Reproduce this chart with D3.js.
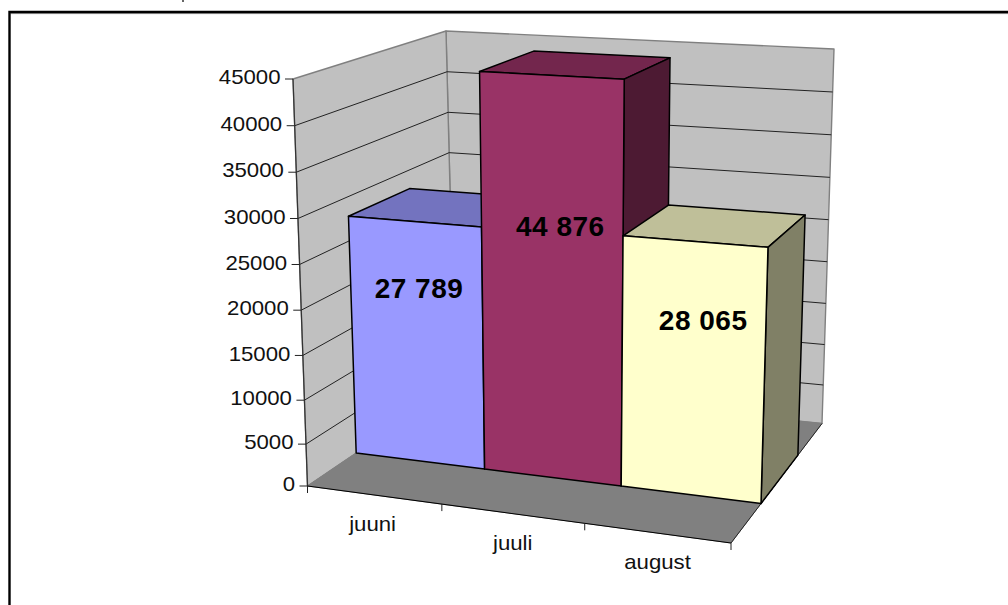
<!DOCTYPE html>
<html><head><meta charset="utf-8">
<script src="https://cdn.jsdelivr.net/npm/d3@7"></script>
<style>html,body{margin:0;background:#fff}svg{display:block}text{font-family:"Liberation Sans",Arial,sans-serif}</style>
</head><body><div id="c"></div>
<script>
const categories = ["juuni","juuli","august"];
const values = [27789,44876,28065];
const valueLabels = ["27 789","44 876","28 065"];
const yTicks = [0,5000,10000,15000,20000,25000,30000,35000,40000,45000];
const colors = ["#9999ff","#993366","#ffffcc"];
const topColors = ["#7373bf","#73264d","#bfbf99"];
const sideColors = ["#4d4d80","#4d1a33","#808066"];
const labelDrop = [69,153,81];
const labelShift = [6,9,8];

const W=1008,H=605;
// screen corners of the plot box, named by [x, height, depth]
const corners={ "000":[307.5,486],"100":[731,543],"010":[293,79],"110":[742,104],
                "001":[455,386],"101":[822,423.5],"011":[446,31],"111":[834,49] };
const mix=(a,b,t)=>[a[0]+(b[0]-a[0])*t,a[1]+(b[1]-a[1])*t];
function box(x,y,z){
  const c=k=>corners[k];
  const f0=mix(mix(c("000"),c("100"),x),mix(c("010"),c("110"),x),y);
  const f1=mix(mix(c("001"),c("101"),x),mix(c("011"),c("111"),x),y);
  return mix(f0,f1,z);
}
const xS=d3.scalePow().exponent(1.045).domain([0,categories.length]).range([0,1]);
const yS=d3.scalePow().exponent(1.035).domain([0,45000]).range([0,1]);
const Z0=0.33,Z1=0.735;
const pr=(x,v,z)=>box(xS(x),yS(v),z);

const line=d3.line().curve(d3.curveLinearClosed);
const pl=d3.line();
const svg=d3.select("#c").append("svg").attr("width",W).attr("height",H);
svg.append("rect").attr("width",W).attr("height",H).attr("fill","#fff");
const poly=(pts,fill,stroke,sw)=>svg.append("path").attr("d",line(pts)).attr("fill",fill).attr("stroke",stroke).attr("stroke-width",sw).attr("stroke-linejoin","round");
const path=(pts,stroke,sw)=>svg.append("path").attr("d",pl(pts)).attr("fill","none").attr("stroke",stroke).attr("stroke-width",sw);
// frame
path([[W,13.6],[10.5,13.6]],"#999",1);
path([[9.5,H],[9.5,12],[W,12]],"#000",2.4);
svg.append("rect").attr("x",182).attr("y",0).attr("width",2).attr("height",2).attr("fill","#666");
// walls and floor
poly([pr(0,0,1),pr(3,0,1),pr(3,45000,1),pr(0,45000,1)],"#c0c0c0","#808080",1.4);
poly([pr(0,0,0),pr(0,0,1),pr(0,45000,1),pr(0,45000,0)],"#c0c0c0","#808080",1.4);
poly([pr(0,0,0),pr(3,0,0),pr(3,0,1),pr(0,0,1)],"#808080","#808080",1);
// grid
yTicks.slice(1,-1).forEach(v=>path([pr(0,v,0),pr(0,v,1),pr(3,v,1)],"#222",1));
// axes
path([pr(0,0,0),pr(0,45000,0)],"#333",1.2);
path([pr(0,0,0),pr(3,0,0)],"#000",1.1);
path([pr(3,0,0),pr(3,0,1)],"#222",1);
yTicks.forEach(v=>{
  const p=pr(0,v,0);
  svg.append("line").attr("x1",p[0]-8).attr("x2",p[0]).attr("y1",p[1]).attr("y2",p[1]).attr("stroke","#222");
  svg.append("text").attr("transform",`translate(${p[0]-12.5},${p[1]}) scale(1.11,1)`).attr("text-anchor","end").attr("dominant-baseline","middle").attr("font-size",20).attr("fill","#111").text(v);
});
d3.range(0,4).forEach(i=>{
  const p=pr(i,0,0);
  svg.append("line").attr("x1",p[0]).attr("x2",p[0]).attr("y1",p[1]).attr("y2",p[1]+7).attr("stroke","#222");
});
categories.forEach((d,i)=>{
  const p=pr(i+.5,0,0);
  svg.append("text").attr("transform",`translate(${p[0]},${p[1]+36}) scale(1.11,1)`).attr("text-anchor","middle").attr("font-size",20).attr("fill","#111").text(d);
});
// bars
values.forEach((v,i)=>{
  poly([pr(i,v,Z0),pr(i+1,v,Z0),pr(i+1,v,Z1),pr(i,v,Z1)],topColors[i],"#000",1.5);
  poly([pr(i+1,0,Z0),pr(i+1,0,Z1),pr(i+1,v,Z1),pr(i+1,v,Z0)],sideColors[i],"#000",1.5);
  poly([pr(i,0,Z0),pr(i+1,0,Z0),pr(i+1,v,Z0),pr(i,v,Z0)],colors[i],"#000",1.5);
});
values.forEach((v,i)=>{
  const p=pr(i+.5,v,Z0);
  svg.append("text").attr("x",p[0]+labelShift[i]).attr("y",p[1]+labelDrop[i]).attr("text-anchor","middle").attr("dominant-baseline","middle").attr("font-size",28).attr("letter-spacing",0.5).attr("font-weight","bold").attr("fill","#000").text(valueLabels[i]);
});
</script></body></html>
